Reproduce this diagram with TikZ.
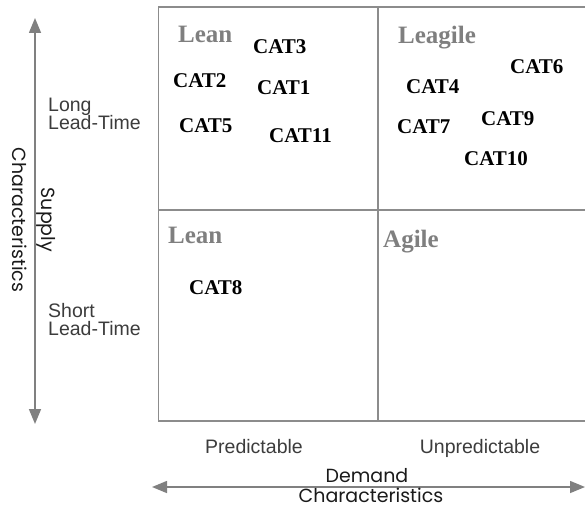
\documentclass[tikz,border=0pt]{standalone}
\usepackage{fontspec}
\setmainfont{Liberation Serif}
\setsansfont{Liberation Sans}
\newfontfamily\geofont{Poppins}
\usetikzlibrary{arrows.meta}
\definecolor{gridgray}{HTML}{8C8C8C}
\definecolor{arrowgray}{HTML}{808080}
\definecolor{titlegray}{HTML}{7F7F7F}
\definecolor{labelgray}{HTML}{3C3C3C}
\definecolor{axistext}{HTML}{1A1A1A}
\begin{document}
\begin{tikzpicture}[x=1pt,y=-1pt,
  every node/.style={inner sep=0pt, anchor=base west},
  quad/.style={font=\fontsize{25}{30}\selectfont\bfseries, text=titlegray},
  cat/.style={font=\fontsize{21}{25}\selectfont\bfseries, text=black},
  side/.style={font=\sffamily\fontsize{19.5}{22}\selectfont, text=labelgray},
  axislabel/.style={font=\geofont\fontsize{19}{20}\selectfont, text=axistext},
  gridline/.style={draw=gridgray, line width=1.2pt},
  axisarrow/.style={draw=arrowgray, line width=1.5pt,
    {Triangle[length=15pt,width=12pt]}-{Triangle[length=15pt,width=12pt]}}]
\useasboundingbox (0,0) rectangle (585,508);
% grid
\coordinate (gTL) at (158.5,7);
\coordinate (gTR) at (586,7);
\coordinate (gBL) at (158.5,421);
\coordinate (gBR) at (586,421);
\coordinate (gML) at (158.5,210);
\coordinate (gMR) at (586,210);
\coordinate (gMT) at (378,7);
\coordinate (gMB) at (378,421);
\draw[gridline] (gTR) -- (gTL) -- (gBL) -- (gBR);
\draw[gridline] (gML) -- (gMR);
\draw[gridline] (gMT) -- (gMB);
% axes
\coordinate (vTop) at (35,18);
\coordinate (vBot) at (35,424);
\coordinate (hLeft) at (152,487);
\coordinate (hRight) at (585,487);
\draw[axisarrow] (vTop) -- (vBot);
\draw[axisarrow] (hLeft) -- (hRight);
% quadrant titles
\node[quad] (qLeanTop) at (178,43) {Lean};
\node[quad] (qLeagile) at (398,44) {Leagile};
\node[quad] (qLeanBot) at (168,243) {Lean};
\node[quad] (qAgile) at (383,247) {Agile};
% categories
\node[cat] (cat3) at (253,54) {CAT3};
\node[cat] (cat2) at (173,88) {CAT2};
\node[cat] (cat1) at (257,95) {CAT1};
\node[cat] (cat5) at (179,132) {CAT5};
\node[cat] (cat11) at (269,142) {CAT11};
\node[cat] (cat6) at (510,74) {CAT6};
\node[cat] (cat4) at (406,93) {CAT4};
\node[cat] (cat7) at (397,133) {CAT7};
\node[cat] (cat9) at (481,125) {CAT9};
\node[cat] (cat10) at (464,165) {CAT10};
\node[cat] (cat8) at (189,294) {CAT8};
% side labels
\node[side] (longA) at (48,111) {Long};
\node[side] (longB) at (48,129) {Lead-Time};
\node[side] (shortA) at (48,317) {Short};
\node[side] (shortB) at (48,335) {Lead-Time};
\node[side, anchor=base] (pred) at (254,453) {Predictable};
\node[side, anchor=base] (unpred) at (480,453) {Unpredictable};
% axis titles
\node[axislabel, anchor=base] (demA) at (367,482) {Demand};
\node[axislabel, anchor=base] (demB) at (371,502) {Characteristics};
\node[axislabel, anchor=center, rotate=-90] (supA) at (46,220) {Supply};
\node[axislabel, anchor=center, rotate=-90] (supB) at (20,220) {Characteristics};
\end{tikzpicture}
\end{document}
